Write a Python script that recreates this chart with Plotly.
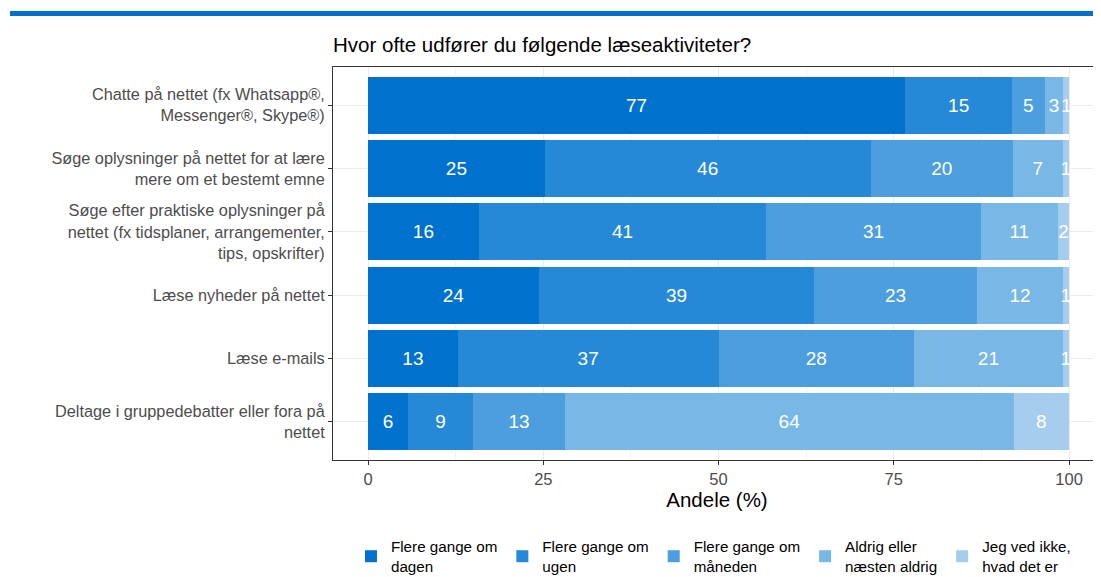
import plotly.graph_objects as go

# data
categories = [
    "Chatte på nettet (fx Whatsapp®,<br>Messenger®, Skype®)",
    "Søge oplysninger på nettet for at lære<br>mere om et bestemt emne",
    "Søge efter praktiske oplysninger på<br>nettet (fx tidsplaner, arrangementer,<br>tips, opskrifter)",
    "Læse nyheder på nettet",
    "Læse e-mails",
    "Deltage i gruppedebatter eller fora på<br>nettet",
]
answers = [
    "Flere gange om<br>dagen",
    "Flere gange om<br>ugen",
    "Flere gange om<br>måneden",
    "Aldrig eller<br>næsten aldrig",
    "Jeg ved ikke,<br>hvad det er",
]
dagen = [76.6, 25.2, 15.8, 24.4, 12.8, 5.7]
ugen = [15.3, 46.5, 41.0, 39.2, 37.2, 9.3]
maaneden = [4.6, 20.3, 30.6, 23.3, 27.9, 13.1]
aldrig = [2.7, 7.1, 11.0, 12.2, 21.2, 64.0]
ved_ikke = [0.8, 0.9, 1.6, 0.9, 0.9, 7.9]
series = [dagen, ugen, maaneden, aldrig, ved_ikke]
colors = ["#0072CE", "#2689D8", "#4C9EDE", "#79B7E6", "#A6CDEE"]

W, H = 1093, 569  # siden har 8px kant
L, T, B = 325, 59, 117

fig = go.Figure()
for name, vals, col in zip(answers, series, colors):
    fig.add_trace(go.Bar(
        y=categories, x=vals, name=name, orientation="h",
        marker=dict(color=col, line=dict(width=0)),
        width=0.9,
        text=[f"{round(v)}" for v in vals],
        textposition="inside", insidetextanchor="middle",
        constraintext="none", textangle=0,
        textfont=dict(color="white", size=19, family="Liberation Sans"),
        hoverinfo="skip",
    ))

# blaa streg i toppen
fig.add_shape(type="rect", xref="paper", yref="paper",
              x0=-0.4206, x1=1.0, y0=1.1298, y1=1.1425,
              fillcolor="#0072CE", line=dict(width=0), layer="above")

fig.update_layout(
    width=W, height=H,
    margin=dict(l=L, r=0, t=T, b=B, autoexpand=False),
    plot_bgcolor="white", paper_bgcolor="white",
    barmode="stack", bargap=0.1,
    font=dict(family="Liberation Sans", color="#4D4D4D"),
    title=dict(text="Hvor ofte udfører du følgende læseaktiviteter?",
               x=L / W, xanchor="left", y=1 - 37 / H, yanchor="middle",
               font=dict(size=20.5, color="black")),
    showlegend=True,
    legend=dict(orientation="h", x=0.0234, xanchor="left", y=-0.178, yanchor="top",
                font=dict(size=15.2, color="black"), traceorder="normal",
                itemclick=False),
)
fig.update_xaxes(
    range=[-5, 104.56], tickvals=[0, 25, 50, 75, 100],
    showgrid=True, gridcolor="#EBEBEB", gridwidth=1,
    minor=dict(tickvals=[12.5, 37.5, 62.5, 87.5], showgrid=True,
               gridcolor="#F4F4F4", gridwidth=0.6, ticks=""),
    showline=True, linecolor="#333333", linewidth=1, mirror=True,
    ticks="outside", ticklen=4, tickcolor="#333333",
    tickfont=dict(size=16.5, color="#4D4D4D"), zeroline=False,
    title=dict(text="Andele (%)", font=dict(size=20.5, color="black"), standoff=2),
)
fig.update_yaxes(
    type="category", range=[5.6, -0.6],
    showgrid=True, gridcolor="#EBEBEB", gridwidth=1,
    showline=True, linecolor="#333333", linewidth=1, mirror=False,
    ticks="outside", ticklen=4, tickcolor="#333333",
    tickfont=dict(size=16.3, color="#4D4D4D"), zeroline=False,
)

fig.write_html("out.html")
